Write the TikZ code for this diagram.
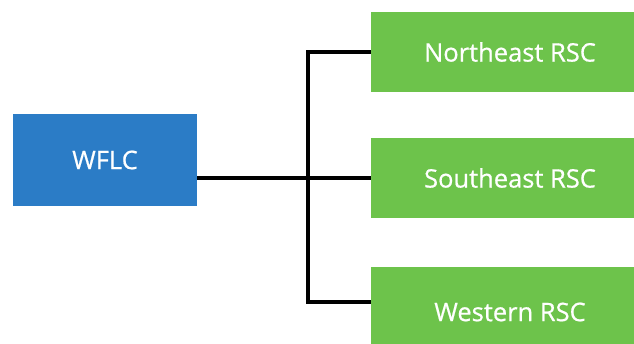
\documentclass[tikz,border=0pt]{standalone}
\usepackage{fontspec}
\setmainfont{Open Sans}
\newfontfamily\boxfont{Open Sans}[FakeBold=0.6]
\usepackage{tikz}
\usetikzlibrary{positioning}
\usepackage{xcolor}
\definecolor{wflcblue}{RGB}{43,124,198}
\definecolor{rscgreen}{RGB}{109,195,75}

\begin{document}
\begin{tikzpicture}[x=1pt,y=-1pt,
  box/.style={minimum height=80pt,inner sep=0pt,text=white,font=\boxfont\fontsize{25.5}{28}\selectfont},
  link/.style={line width=3.4pt}]
	\useasboundingbox (0,0) rectangle (634,344);

	\node (wflc) [box,fill=wflcblue,minimum width=184pt,minimum height=92pt] at (105,160) {WFLC};

	\node (ne) [box,fill=rscgreen,minimum width=278pt] at (510,52) {Northeast RSC};
	\node (se) [box,fill=rscgreen,minimum width=278pt] at (510,178) {Southeast RSC};
	\node (we) [box,fill=rscgreen,minimum width=278pt,minimum height=90pt] at (510,312) {Western RSC};

	\coordinate (bus) at (308,178);

	\draw [link] (wflc.east |- se.west) -- (se.west);
	\draw [link] (ne.west) -- (bus |- ne.west) -- (bus |- 0,302) -- ([yshift=10pt]we.west);
\end{tikzpicture}
\end{document}
